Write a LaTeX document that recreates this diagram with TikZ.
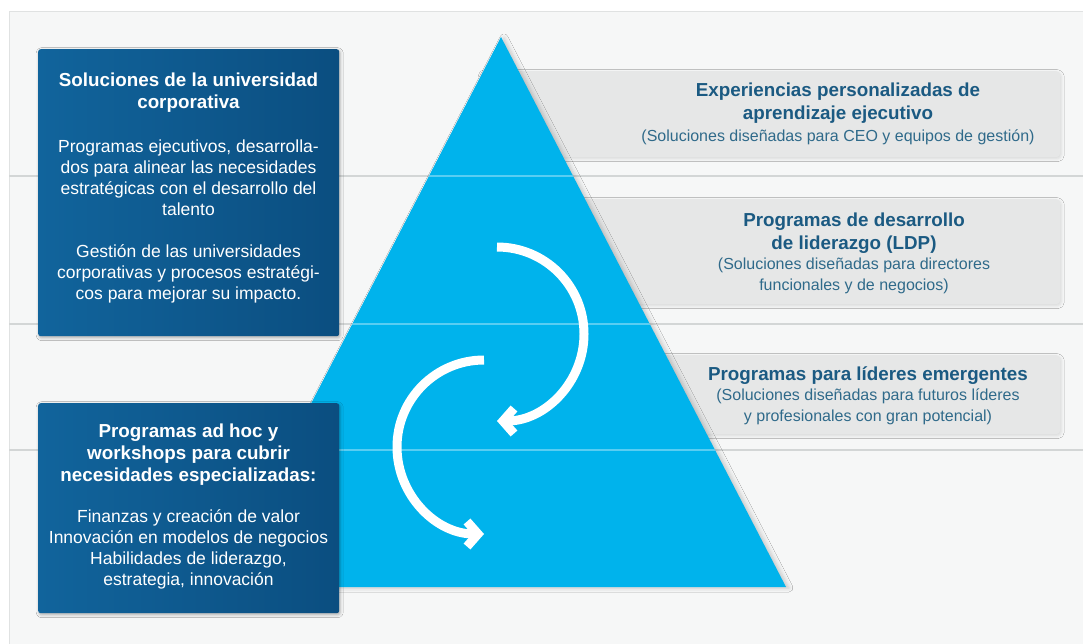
\documentclass[tikz,border=0pt]{standalone}
\usepackage{fontspec}
\setmainfont{Liberation Sans}
\usetikzlibrary{arrows.meta,shadows.blur}
\definecolor{panel}{HTML}{F6F7F7}
\definecolor{paneledge}{HTML}{E0E2E2}
\definecolor{rulec}{HTML}{D3D6D6}
\definecolor{tri}{HTML}{00B3EC}
\definecolor{boxl}{HTML}{11649C}
\definecolor{boxr}{HTML}{0B4E80}
\definecolor{rbox}{HTML}{E6E7E7}
\definecolor{rtitle}{HTML}{1B5A82}
\definecolor{rsub}{HTML}{2F6A8A}
\begin{document}
\begin{tikzpicture}[x=1pt,y=1pt,
  darkbox/.style={draw=none, rounded corners=2.5pt, inner sep=0pt, anchor=north west,
    left color=boxl, right color=boxr, minimum width=301pt,
    blur shadow={shadow xshift=1pt, shadow yshift=-1.5pt, shadow blur radius=3pt, shadow opacity=30}},
  greybox/.style={draw=none, fill=rbox, rounded corners=4pt, inner sep=0pt, anchor=north west,
    minimum width=580pt,
    blur shadow={shadow xshift=1pt, shadow yshift=-1.5pt, shadow blur radius=3pt, shadow opacity=12}},
  ltitle/.style={text=white, font=\bfseries\fontsize{18.8}{22}\selectfont, align=center, inner sep=0pt, anchor=north},
  lbody/.style={text=white, font=\fontsize{17.5}{21}\selectfont, align=center, inner sep=0pt, anchor=north},
  rtit/.style={text=rtitle, font=\bfseries\fontsize{18.8}{22.5}\selectfont, align=center, inner sep=0pt, anchor=north},
  rsubt/.style={text=rsub, font=\fontsize{16}{21}\selectfont, align=center, inner sep=0pt, anchor=north},
  rulestyle/.style={rulec, line width=2pt},
  ruleon/.style={white, opacity=0.35, line width=2pt},
  warrow/.style={white, line width=9pt, line cap=butt, -{Straight Barb[length=11pt,width=25pt]}}
]
% background and panel
\fill[white] (0,0) rectangle (1083,-644);
\useasboundingbox (0,0) rectangle (1083,-644);
\filldraw[fill=panel, draw=paneledge, line width=1pt] (9,-12) rectangle (1095,-660);

% horizontal rules
\coordinate (r1a) at (9,-176);  \coordinate (r1b) at (1083,-176);
\coordinate (r2a) at (9,-324);  \coordinate (r2b) at (1083,-324);
\coordinate (r3a) at (9,-450);  \coordinate (r3b) at (1083,-450);
\draw[rulestyle] (r1a) -- (r1b);
\draw[rulestyle] (r2a) -- (r2b);
\draw[rulestyle] (r3a) -- (r3b);

% right grey boxes
\node[greybox, minimum height=86pt]  (rb1) at (480,-71)  {};
\node[greybox, minimum height=105pt] (rb2) at (480,-199) {};
\node[greybox, minimum height=79pt]  (rb3) at (480,-355) {};

% pyramid
\coordinate (apex) at (501,-37);
\coordinate (bl) at (216,-587);
\coordinate (br) at (786,-587);
\fill[tri, blur shadow={shadow xshift=3pt, shadow yshift=-1pt, shadow blur radius=4pt, shadow opacity=20}]
  (apex) -- (br) -- (bl) -- cycle;
\begin{scope}
  \clip (apex) -- (br) -- (bl) -- cycle;
  \draw[ruleon] (r1a) -- (r1b);
  \draw[ruleon] (r2a) -- (r2b);
  \draw[ruleon] (r3a) -- (r3b);
\end{scope}

% circular arrows
\coordinate (a1s) at (497,-247);
\coordinate (a2s) at (484,-360);
\draw[warrow] (a1s) arc[start angle=90, end angle=-90, radius=87];
\draw[warrow] (a2s) arc[start angle=90, end angle=270, radius=87];

% left dark boxes
\node[darkbox, minimum height=287pt] (lb1) at (38,-49) {};
\node[darkbox, minimum height=210pt] (lb2) at (38,-403) {};

\node[ltitle] (lb1t) at (188.5,-72.5) {Soluciones de la universidad\\corporativa};
\node[lbody] (lb1b) at (188.5,-139.5) {Programas ejecutivos, desarrolla-\\dos para alinear las necesidades\\estratégicas con el desarrollo del\\talento\\[21pt]Gestión de las universidades\\corporativas y procesos estratégi-\\cos para mejorar su impacto.};

\node[ltitle] (lb2t) at (188.5,-423.5) {Programas ad hoc y\\workshops para cubrir\\necesidades especializadas:};
\node[lbody] (lb2b) at (188.5,-509.5) {Finanzas y creación de valor\\Innovación en modelos de negocios\\Habilidades de liderazgo,\\estrategia, innovación};

% right texts
\node[rtit] (rb1t) at (838,-83) {Experiencias personalizadas de\\aprendizaje ejecutivo};
\node[rsubt] (rb1s) at (838,-130) {(Soluciones diseñadas para CEO y equipos de gestión)};
\node[rtit] (rb2t) at (854,-213) {Programas de desarrollo\\de liderazgo (LDP)};
\node[rsubt] (rb2s) at (854,-258) {(Soluciones diseñadas para directores\\funcionales y de negocios)};
\node[rtit] (rb3t) at (868,-367) {Programas para líderes emergentes};
\node[rsubt] (rb3s) at (868,-389) {(Soluciones diseñadas para futuros líderes\\y profesionales con gran potencial)};
\end{tikzpicture}
\end{document}
